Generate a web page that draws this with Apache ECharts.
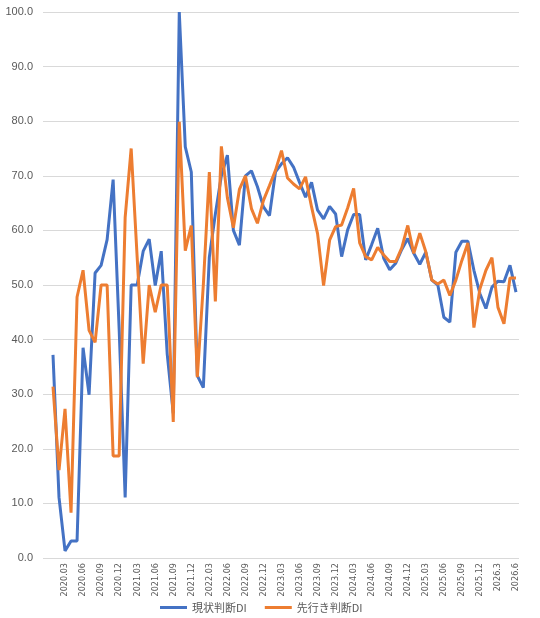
<!DOCTYPE html>
<html>
<head>
<meta charset="utf-8">
<script src="https://cdn.jsdelivr.net/npm/echarts@6/dist/echarts.min.js"></script>
<style>
  html, body { margin: 0; padding: 0; background: #fff; }
  #chart { width: 540px; height: 618px; }
</style>
</head>
<body>
<div id="chart"></div>
<script>
// 月次 (2020.01 - 2026.6)
const months = [
  '2020.01', '2020.02', '2020.03', '2020.04', '2020.05', '2020.06', '2020.07', '2020.08', '2020.09', '2020.10', '2020.11', '2020.12',
  '2021.01', '2021.02', '2021.03', '2021.04', '2021.05', '2021.06', '2021.07', '2021.08', '2021.09', '2021.10', '2021.11', '2021.12',
  '2022.01', '2022.02', '2022.03', '2022.04', '2022.05', '2022.06', '2022.07', '2022.08', '2022.09', '2022.10', '2022.11', '2022.12',
  '2023.01', '2023.02', '2023.03', '2023.04', '2023.05', '2023.06', '2023.07', '2023.08', '2023.09', '2023.10', '2023.11', '2023.12',
  '2024.01', '2024.02', '2024.03', '2024.04', '2024.05', '2024.06', '2024.07', '2024.08', '2024.09', '2024.10', '2024.11', '2024.12',
  '2025.01', '2025.02', '2025.03', '2025.04', '2025.05', '2025.06', '2025.07', '2025.08', '2025.09', '2025.10', '2025.11', '2025.12',
  '2026.1', '2026.2', '2026.3', '2026.4', '2026.5', '2026.6'
]

// 現状判断DI
const currentDI = [
  37.2, 11.1, 1.3, 3.1, 3.1, 38.5, 29.9, 52.2, 53.6, 58.3, 69.3, 42.0,
  11.1, 50.0, 50.0, 56.2, 58.4, 49.9, 56.2, 37.3, 26.5, 100.0, 75.3, 70.7,
  33.4, 31.2, 55.1, 63.0, 70.0, 73.8, 60.0, 57.3, 70.0, 70.9, 68.0, 64.3,
  62.7, 70.7, 72.2, 73.3, 71.6, 68.8, 66.1, 68.8, 63.7, 62.1, 64.4, 63.0,
  55.2, 60.1, 62.9, 62.9, 54.6, 57.4, 60.4, 54.9, 52.8, 54.0, 56.5, 58.5,
  55.8, 53.8, 56.0, 50.9, 50.0, 44.1, 43.2, 56.0, 58.0, 58.0, 52.7, 48.4,
  45.7, 49.6, 50.7, 50.6, 53.6, 48.7
]

// 先行き判断DI
const outlookDI = [
  31.4, 16.1, 27.3, 8.3, 47.8, 52.7, 41.7, 39.5, 50.0, 50.0, 18.7, 18.7,
  62.4, 75.0, 55.0, 35.6, 50.0, 45.0, 50.0, 50.0, 24.9, 79.9, 56.3, 60.9,
  33.1, 50.0, 70.7, 47.0, 75.4, 66.0, 60.5, 67.5, 70.0, 64.0, 61.3, 65.5,
  68.2, 71.0, 74.6, 69.6, 68.5, 67.6, 69.8, 64.3, 59.4, 49.9, 58.2, 60.7,
  61.0, 64.1, 67.7, 57.7, 55.2, 54.6, 56.9, 55.5, 54.3, 54.3, 56.8, 60.9,
  55.8, 59.5, 56.1, 50.9, 50.2, 50.9, 48.1, 50.9, 54.5, 57.7, 42.2, 49.3,
  52.7, 55.0, 45.9, 42.9, 51.3, 51.3
]

const seriesNames = ['現状判断DI', '先行き判断DI']

const chart = echarts.init(document.getElementById('chart'))

const labelColor = '#595959'

const option = {
  animation: false,
  color: ['#4472C4', '#ED7D31'],
  // grid 0: 目盛線と縦軸ラベル, grid 1: 折れ線
  grid: [
    { left: 43, right: 21, top: 12, bottom: 60 },
    { left: 53, right: 24, top: 12, bottom: 60 }
  ],
  legend: {
    data: seriesNames,
    left: 155,
    top: 597,
    icon: 'rect',
    itemWidth: 27,
    itemHeight: 3,
    itemGap: 18,
    textStyle: {
      color: labelColor,
      fontSize: 11,
      fontFamily: 'Noto Sans CJK JP'
    }
  },
  xAxis: [
    { type: 'value', gridIndex: 0, show: false, min: 0, max: 1 },
    {
      type: 'category',
      gridIndex: 1,
      data: months,
      boundaryGap: false,
      axisLine: { show: false },
      axisTick: { show: false },
      axisLabel: {
        rotate: 90,
        margin: 5,
        color: labelColor,
        fontSize: 9,
        fontFamily: 'Liberation Sans Narrow, DejaVu Sans Condensed, sans-serif',
        interval: (index) => (index - 2) % 3 === 0
      }
    }
  ],
  yAxis: [
    {
      type: 'value',
      gridIndex: 0,
      min: 0,
      max: 100,
      interval: 10,
      axisLine: { show: false },
      axisTick: { show: false },
      axisLabel: {
        margin: 10,
        color: labelColor,
        fontSize: 11,
        fontFamily: 'Liberation Sans, sans-serif',
        formatter: (v) => v.toFixed(1)
      },
      splitLine: { lineStyle: { color: '#D9D9D9', width: 1 } }
    },
    { type: 'value', gridIndex: 1, min: 0, max: 100, show: false }
  ],
  series: [
    {
      name: seriesNames[0],
      type: 'line',
      xAxisIndex: 1,
      yAxisIndex: 1,
      data: currentDI,
      showSymbol: false,
      lineStyle: { width: 3 }
    },
    {
      name: seriesNames[1],
      type: 'line',
      xAxisIndex: 1,
      yAxisIndex: 1,
      data: outlookDI,
      showSymbol: false,
      lineStyle: { width: 3 }
    }
  ]
}

chart.setOption(option)
</script>
</body>
</html>
